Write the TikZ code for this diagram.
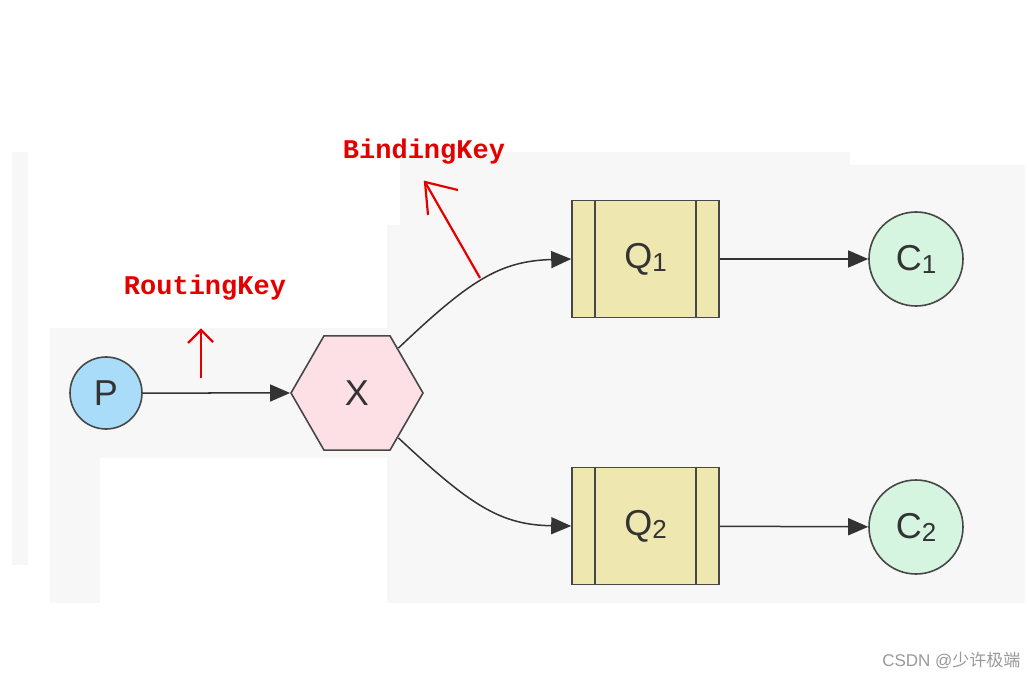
\documentclass[tikz,border=0pt]{standalone}
\usepackage{fontspec}
\setmainfont{Liberation Sans}
\newfontfamily\monob{Liberation Mono}
\newfontfamily\cjk{Noto Sans CJK SC}
\usetikzlibrary{shapes.geometric,arrows.meta}
\definecolor{bg}{HTML}{F7F7F7}
\definecolor{edge}{HTML}{333333}
\tikzset{
  st/.style={draw=edge!90,line width=1.6pt},
  lab/.style={font=\fontsize{36}{36}\selectfont,text=edge},
  conn/.style={draw=edge,line width=1.5pt,-{Triangle[length=20pt,width=17pt]}},
  red/.style={text=red!90!black,font=\monob\bfseries\fontsize{27}{27}\selectfont},
  rarr/.style={draw=red!90!black,line width=2.2pt},
}
\begin{document}
\begin{tikzpicture}[x=1pt,y=-1pt]
\useasboundingbox (0,0) rectangle (1029,679);
\fill[white] (0,0) rectangle (1029,679);
\fill[bg] (12,152) rectangle (28,565);
\fill[bg] (50,328) rectangle (100,603);
\fill[bg] (100,328) rectangle (387,458);
\fill[bg] (387,225) rectangle (1025,603);
\fill[bg] (400,152) rectangle (850,225);
\fill[bg] (850,165) rectangle (1025,225);
\node[st,circle,fill={rgb,255:red,168;green,220;blue,248},minimum size=72pt,inner sep=0,lab] (P) at (106,393) {P};
\node[st,regular polygon,regular polygon sides=6,minimum size=132pt,inner sep=0,fill={rgb,255:red,252;green,224;blue,230},lab] (X) at (357,393) {X};
\foreach \n/\y/\s in {Q1/259/1,Q2/526/2}{
  \node[st,rectangle,minimum width=147pt,minimum height=117pt,fill={rgb,255:red,238;green,232;blue,176},lab] (\n) at (645.5,\y) {Q\fontsize{26}{26}\selectfont\raisebox{-3pt}{\s}};
  \draw[st] ([xshift=24pt]\n.north west) -- ([xshift=24pt]\n.south west);
  \draw[st] ([xshift=-24pt]\n.north east) -- ([xshift=-24pt]\n.south east);
}
\node[st,circle,minimum size=94pt,inner sep=0,fill={rgb,255:red,213;green,245;blue,224},lab] (C1) at (916,259) {C\fontsize{26}{26}\selectfont\raisebox{-3pt}{1}};
\node[st,circle,minimum size=94pt,inner sep=0,fill={rgb,255:red,213;green,245;blue,224},lab] (C2) at (916,527) {C\fontsize{26}{26}\selectfont\raisebox{-3pt}{2}};
\draw[conn] (P) -- (X);
\draw[conn] ([shift={(8pt,-13pt)}]X.corner 1) .. controls (470,280) and (500,261) .. (Q1.west);
\draw[conn] ([shift={(8pt,13pt)}]X.corner 5) .. controls (470,505) and (500,525) .. (Q2.west);
\draw[conn] (Q1) -- (C1);
\draw[conn] (Q2) -- (C2);
\node[red] (rk) at (205,288) {RoutingKey};
\node[red] (bk) at (424,152) {BindingKey};
\coordinate (ra) at (201,378); \coordinate (rb) at (201,330);
\draw[rarr] (ra) -- (rb);
\draw[rarr] (188,343) -- (rb) -- (213,342);
\coordinate (ba) at (480,278); \coordinate (bb) at (425,182);
\draw[rarr] (ba) -- (bb);
\draw[rarr] (428,215) -- (bb) -- (458,190);
\node[text=gray!80,font=\fontsize{17}{17}\selectfont,anchor=east] (wm) at (1024,661) {CSDN @{\cjk 少许极端}};
\end{tikzpicture}
\end{document}
